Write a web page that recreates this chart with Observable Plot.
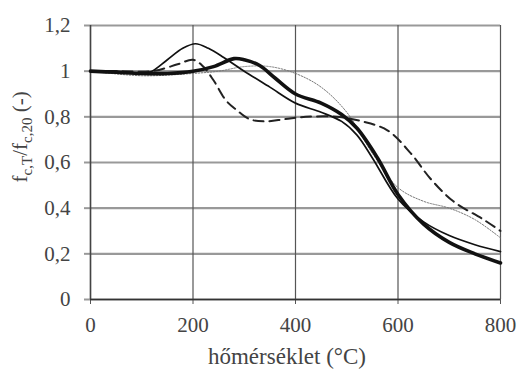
<!DOCTYPE html>
<html>
<head>
<meta charset="utf-8">
<script src="https://cdn.jsdelivr.net/npm/d3@7"></script>
<script src="https://cdn.jsdelivr.net/npm/@observablehq/plot@0.6"></script>
<style>
  body { margin: 0; background: #fff; }
</style>
</head>
<body>
<div id="chart"></div>
<script>
const xTicks = [0, 200, 400, 600, 800];
const yTicks = [0, 0.2, 0.4, 0.6, 0.8, 1.0, 1.2];
const xLabel = "hőmérséklet (°C)";

const tempThin  = [0, 50, 100, 120, 150, 180, 205, 230, 260, 300, 350, 400, 450, 490, 520, 550, 600, 650, 700, 750, 800];
const valThin   = [1.0, 1.0, 0.99, 1.0, 1.05, 1.1, 1.12, 1.1, 1.06, 1.0, 0.93, 0.86, 0.82, 0.78, 0.72, 0.62, 0.44, 0.34, 0.28, 0.24, 0.21];

const tempThick = [0, 50, 100, 150, 200, 240, 280, 300, 330, 360, 400, 450, 490, 520, 560, 600, 650, 700, 750, 800];
const valThick  = [1.0, 0.995, 0.99, 0.99, 1.0, 1.02, 1.055, 1.05, 1.025, 0.97, 0.9, 0.86, 0.81, 0.75, 0.62, 0.46, 0.33, 0.25, 0.2, 0.16];

const tempDash  = [0, 60, 120, 170, 200, 220, 240, 265, 285, 310, 340, 380, 420, 480, 530, 580, 625, 663, 708, 767, 800];
const valDash   = [1.0, 1.0, 1.0, 1.03, 1.05, 1.02, 0.96, 0.87, 0.83, 0.79, 0.78, 0.79, 0.8, 0.8, 0.78, 0.74, 0.64, 0.53, 0.43, 0.35, 0.3];

const tempDot   = [0, 100, 200, 250, 300, 350, 400, 450, 500, 550, 600, 650, 700, 750, 800];
const valDot    = [1.0, 0.98, 0.99, 1.0, 1.02, 1.02, 0.99, 0.93, 0.82, 0.64, 0.49, 0.43, 0.4, 0.35, 0.27];

const toRows = (t, v) => t.map((x, i) => ({x, y: v[i]}));
const comma = d => String(Math.round(d * 10) / 10).replace(".", ",");

const plot = Plot.plot({
  width: 521,
  height: 369,
  marginLeft: 90,
  marginRight: 21,
  marginTop: 25,
  marginBottom: 70,
  style: {fontFamily: "Liberation Serif", fontSize: "21px", color: "#333", background: "#fff"},
  x: {domain: [0, 800], ticks: xTicks},
  y: {domain: [0, 1.2], ticks: yTicks},
  marks: [
    Plot.gridY(yTicks, {stroke: "#999", strokeOpacity: 1, strokeWidth: 2.2}),
    Plot.gridX(xTicks, {stroke: "#555", strokeOpacity: 1, strokeWidth: 1.2}),
    Plot.axisY(yTicks, {tickSize: 6, tickPadding: 14, tickFormat: comma, fontSize: 21, stroke: "#999", strokeWidth: 2, label: null, fill: "#444"}),
    Plot.axisX(xTicks, {tickSize: 5, tickPadding: 13, fontSize: 21, stroke: "#555", label: null, fill: "#444"}),
    Plot.ruleX([0], {stroke: "#444", strokeWidth: 1.5}),
    Plot.ruleY([0], {stroke: "#333", strokeWidth: 1.5}),
    Plot.line(toRows(tempDot, valDot), {x: "x", y: "y", stroke: "#777", strokeWidth: 1, strokeDasharray: "1.5,1.5", curve: "catmull-rom"}),
    Plot.line(toRows(tempDash, valDash), {x: "x", y: "y", stroke: "#222", strokeWidth: 2, strokeDasharray: "10,6", curve: "catmull-rom"}),
    Plot.line(toRows(tempThin, valThin), {x: "x", y: "y", stroke: "#111", strokeWidth: 1.7, curve: "catmull-rom"}),
    Plot.line(toRows(tempThick, valThick), {x: "x", y: "y", stroke: "#111", strokeWidth: 3.6, curve: "catmull-rom"})
  ]
});

const svg = d3.select(plot);
const xs = plot.scale("x"), ys = plot.scale("y");
svg.append("text")
  .attr("x", (xs.apply(0) + xs.apply(800)) / 2 - 8)
  .attr("y", ys.apply(0) + 65)
  .attr("text-anchor", "middle")
  .attr("font-family", "Liberation Serif")
  .attr("font-size", 23)
  .attr("fill", "#444")
  .text(xLabel);

const yl = svg.append("text")
  .attr("transform", `translate(27,${ys.apply(0.71)}) rotate(-90)`)
  .attr("text-anchor", "middle")
  .attr("font-family", "Liberation Serif")
  .attr("font-size", 21)
  .attr("fill", "#444");
yl.append("tspan").text("f");
yl.append("tspan").attr("font-size", 15).attr("dy", 5).text("c,T");
yl.append("tspan").attr("dy", -5).text("/f");
yl.append("tspan").attr("font-size", 15).attr("dy", 5).text("c,20");
yl.append("tspan").attr("dy", -5).text(" (-)");

document.getElementById("chart").appendChild(plot);
</script>
</body>
</html>
